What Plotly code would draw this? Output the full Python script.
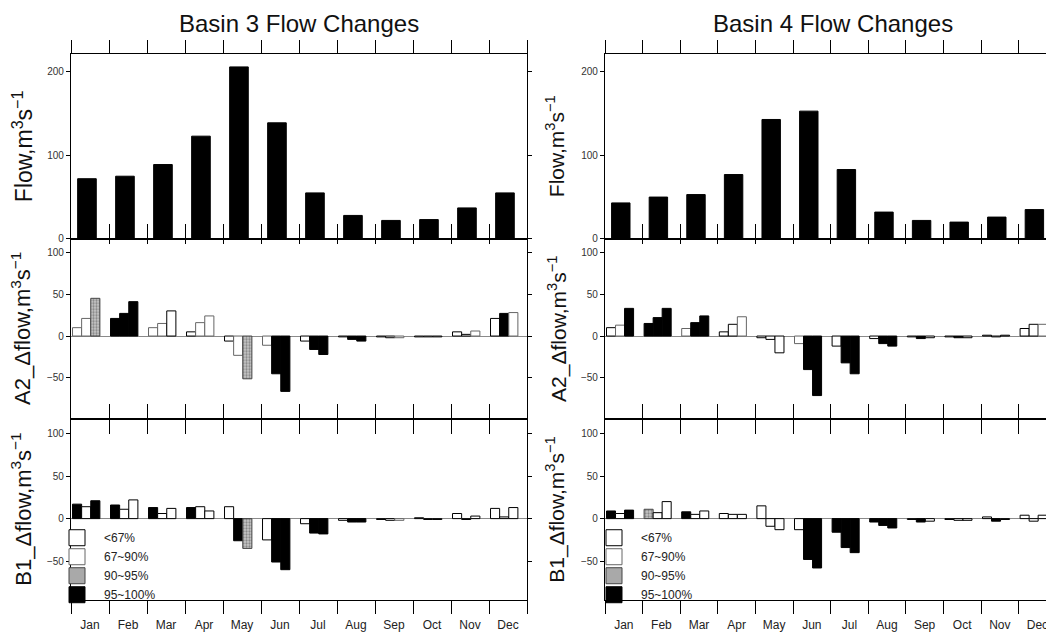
import plotly.graph_objects as go

# ---------------- data ----------------
MONTHS = ['Jan', 'Feb', 'Mar', 'Apr', 'May', 'Jun', 'Jul', 'Aug', 'Sep', 'Oct', 'Nov', 'Dec']
CATEGORY_NAMES = ['<67%', '67~90%', '90~95%', '95~100%']

# mean monthly flow (m3/s)
FLOW_B3 = [72, 75, 89, 123, 206, 139, 55, 28, 22, 23, 37, 55]
FLOW_B4 = [43, 50, 53, 77, 143, 153, 83, 32, 22, 20, 26, 35]

# A2 scenario flow change, Basin 3 (three future periods) and significance class (0..3)
A2_B3_P1 = [10, 21, 10, 5, -6, -11, -6, -1, -1, -1, 5, 21]
A2_B3_P2 = [21, 27, 15, 16, -23, -45, -16, -4, -2, -1, 2, 27]
A2_B3_P3 = [45, 41, 30, 24, -51, -66, -22, -6, -2, -1, 6, 28]
A2_B3_C1 = [1, 3, 1, 0, 0, 1, 0, 0, 0, 0, 0, 0]
A2_B3_C2 = [1, 3, 1, 1, 1, 3, 3, 3, 0, 0, 0, 3]
A2_B3_C3 = [2, 3, 0, 1, 2, 3, 3, 3, 1, 0, 1, 1]

# B1 scenario flow change, Basin 3
B1_B3_P1 = [17, 16, 13, 13, 14, -25, -6, -2, -1, 1, 6, 12]
B1_B3_P2 = [14, 11, 6, 14, -26, -51, -17, -4, -2, -1, -1, 2]
B1_B3_P3 = [21, 22, 12, 9, -35, -60, -18, -4, -2, -1, 3, 13]
B1_B3_C1 = [3, 3, 3, 3, 0, 0, 0, 0, 0, 0, 0, 0]
B1_B3_C2 = [0, 0, 0, 0, 3, 3, 3, 3, 0, 0, 0, 0]
B1_B3_C3 = [3, 0, 0, 0, 2, 3, 3, 3, 1, 0, 0, 0]

# A2 scenario flow change, Basin 4
A2_B4_P1 = [10, 15, 9, 5, -2, -9, -12, -3, -1, -1, 1, 9]
A2_B4_P2 = [13, 22, 16, 14, -4, -40, -32, -9, -3, -2, -1, 14]
A2_B4_P3 = [33, 33, 24, 23, -20, -71, -45, -12, -2, -2, 1, 14]
A2_B4_C1 = [0, 3, 1, 0, 0, 1, 0, 0, 0, 0, 0, 0]
A2_B4_C2 = [1, 3, 3, 0, 0, 3, 3, 3, 3, 3, 0, 0]
A2_B4_C3 = [3, 3, 3, 1, 0, 3, 3, 3, 0, 0, 0, 1]

# B1 scenario flow change, Basin 4
B1_B4_P1 = [9, 11, 8, 6, 15, -13, -16, -4, -1, -1, 2, 4]
B1_B4_P2 = [6, 7, 5, 5, -9, -48, -34, -8, -4, -2, -3, -3]
B1_B4_P3 = [10, 20, 9, 5, -13, -58, -40, -11, -3, -2, -1, 4]
B1_B4_C1 = [3, 2, 3, 0, 0, 0, 3, 3, 0, 0, 0, 0]
B1_B4_C2 = [0, 0, 0, 0, 0, 3, 3, 3, 3, 0, 3, 0]
B1_B4_C3 = [3, 0, 0, 0, 0, 3, 3, 3, 0, 0, 0, 0]

TITLES = ['Basin 3 Flow Changes', 'Basin 4 Flow Changes']
FLOW_TICKS = [0, 100, 200]
DELTA_TICKS = [-50, 0, 50, 100]

# ---------------- styling ----------------
FONT = 'Liberation Sans, Arial, Helvetica, sans-serif'
SCREEN_W, SCREEN_H = 1054, 639
PAGE_MARGIN = 8                     # default body margin of the html page
W, H = SCREEN_W - PAGE_MARGIN, SCREEN_H - PAGE_MARGIN
FILL = ['white', 'white', '#c8c8c8', 'black']
EDGE = ['black', '#666666', '#444444', 'black']
PATTERN = ['', '', '.', '']
LEGEND_FILL = ['white', 'white', '#a9a9a9', 'black']

def px_x(p):   # screen pixel -> paper fraction
    return (p - PAGE_MARGIN) / W

def px_y(p):
    return 1 - (p - PAGE_MARGIN) / H

MONTH_PX = [38.0, 37.6]
col_dom = [[px_x(71), px_x(527)], [px_x(605), 1.0]]
col_rng = [[0, 12], [0, (SCREEN_W - 605) / MONTH_PX[1]]]
row_dom = [[px_y(241), px_y(54)], [px_y(423), px_y(241)], [px_y(606), px_y(423)]]
row_rng = [[0, 222], [-99, 116], [-96, 117]]

flows = [FLOW_B3, FLOW_B4]
deltas = {
    (1, 0): ([A2_B3_P1, A2_B3_P2, A2_B3_P3], [A2_B3_C1, A2_B3_C2, A2_B3_C3]),
    (2, 0): ([B1_B3_P1, B1_B3_P2, B1_B3_P3], [B1_B3_C1, B1_B3_C2, B1_B3_C3]),
    (1, 1): ([A2_B4_P1, A2_B4_P2, A2_B4_P3], [A2_B4_C1, A2_B4_C2, A2_B4_C3]),
    (2, 1): ([B1_B4_P1, B1_B4_P2, B1_B4_P3], [B1_B4_C1, B1_B4_C2, B1_B4_C3]),
}
YLABELS = ['Flow,m<sup>3</sup>s<sup>\u22121</sup>',
           'A2_\u0394flow,m<sup>3</sup>s<sup>\u22121</sup>',
           'B1_\u0394flow,m<sup>3</sup>s<sup>\u22121</sup>']

PERIOD_OFFSETS = [0.16, 0.40, 0.64]
PERIOD_WIDTH = 0.24

fig = go.Figure()
layout = {}

def ax_name(kind, n):
    return kind + ('axis' if n == 1 else 'axis%d' % n)

def ref(kind, n):
    return kind if n == 1 else '%s%d' % (kind, n)

boundaries = list(range(13))
# tick direction / length per row: (bottom, top)
tick_cfg = {0: (('inside', 15), ('outside', 13)),
            1: (('inside', 15), ('inside', 5)),
            2: (('outside', 13), ('inside', 15))}

for r in range(3):
    for c in range(2):
        k = r * 2 + c + 1
        xr, yr = ref('x', k), ref('y', k)
        (bt, bl), (tt, tl) = tick_cfg[r]
        layout[ax_name('x', k)] = dict(
            domain=col_dom[c], anchor=yr, range=col_rng[c],
            tickmode='array', tickvals=boundaries, showticklabels=False,
            ticks=bt, ticklen=bl, tickcolor='black', tickwidth=1,
            showline=True, linecolor='black', linewidth=1.2, mirror=True,
            showgrid=False, zeroline=False, fixedrange=True)
        layout[ax_name('y', k)] = dict(
            domain=row_dom[r], anchor=xr, range=row_rng[r],
            tickmode='array', tickvals=FLOW_TICKS if r == 0 else DELTA_TICKS,
            ticks='outside', ticklen=4, tickcolor='black',
            tickfont=dict(size=10, color='#333333'),
            showline=True, linecolor='black', linewidth=1.2,
            mirror='ticks' if c == 0 else False,
            showgrid=False, zeroline=(r > 0), zerolinecolor='#8a8a8a',
            zerolinewidth=1, fixedrange=True)
        # overlay axis carrying the ticks on the top edge
        ko = 6 + k
        layout[ax_name('x', ko)] = dict(
            overlaying=xr, anchor=yr, side='top', range=col_rng[c],
            tickmode='array', tickvals=boundaries, showticklabels=False,
            ticks=tt, ticklen=tl, tickcolor='black', tickwidth=1,
            showline=False, showgrid=False, zeroline=False, fixedrange=True)
        fig.add_trace(go.Scatter(x=[None], y=[None], xaxis=ref('x', ko), yaxis=yr,
                                 showlegend=False, hoverinfo='skip'))
        if r == 2:
            km = 12 + c + 1
            layout[ax_name('x', km)] = dict(
                overlaying=xr, anchor=yr, side='bottom', range=col_rng[c],
                tickmode='array', tickvals=[i + 0.5 for i in range(12)], ticktext=MONTHS,
                ticks='outside', ticklen=13, tickcolor='rgba(0,0,0,0)',
                tickfont=dict(size=12, color='#222222'), ticklabeloverflow='allow',
                showline=False, showgrid=False, zeroline=False, fixedrange=True)
            fig.add_trace(go.Scatter(x=[None], y=[None], xaxis=ref('x', km), yaxis=yr,
                                     showlegend=False, hoverinfo='skip'))

        if r == 0:
            fig.add_trace(go.Bar(
                x=[i + 0.42 for i in range(12)], y=flows[c], width=0.49,
                marker=dict(color='black', line=dict(color='black', width=1)),
                xaxis=xr, yaxis=yr, showlegend=False, hoverinfo='skip'))
        else:
            vals, cats = deltas[(r, c)]
            for p in range(3):
                fig.add_trace(go.Bar(
                    x=[i + PERIOD_OFFSETS[p] for i in range(12)], y=vals[p],
                    width=PERIOD_WIDTH,
                    marker=dict(
                        color=[FILL[q] for q in cats[p]],
                        line=dict(color=[EDGE[q] for q in cats[p]], width=1),
                        pattern=dict(shape=[PATTERN[q] for q in cats[p]],
                                     fgcolor='#3a3a3a', size=3, solidity=0.45)),
                    xaxis=xr, yaxis=yr, showlegend=False, hoverinfo='skip'))

# legend-only entries
for c, lg in enumerate(['legend', 'legend2']):
    k = 4 + c + 1
    for q, name in enumerate(CATEGORY_NAMES):
        fig.add_trace(go.Scatter(
            x=[None], y=[None], name=name, legend=lg, mode='markers',
            marker=dict(symbol='square', size=16, color=LEGEND_FILL[q],
                        line=dict(color=EDGE[q], width=1)),
            xaxis=ref('x', k), yaxis=ref('y', k), showlegend=True))

leg_common = dict(bgcolor='rgba(0,0,0,0)', font=dict(size=12, color='#222222'),
                  xanchor='left', yanchor='bottom', y=px_y(615), traceorder='normal',
                  itemwidth=44, tracegroupgap=0, borderwidth=0)
layout['legend'] = dict(leg_common, x=px_x(50))
layout['legend2'] = dict(leg_common, x=px_x(587))

annotations = []
for c in range(2):
    cx = (px_x(71) + px_x(527)) / 2 if c == 0 else (px_x(605) + px_x(1061)) / 2
    annotations.append(dict(text=TITLES[c], x=cx, y=px_y(24), xref='paper', yref='paper',
                            xanchor='center', yanchor='middle', showarrow=False,
                            font=dict(size=24, color='#111111')))
label_x = [[23, 21, 21], [555, 558, 556]]
label_size = [[23, 22, 22], [21, 21, 21]]
for c in range(2):
    for r in range(3):
        annotations.append(dict(text=YLABELS[r], x=px_x(label_x[c][r]),
                                y=(row_dom[r][0] + row_dom[r][1]) / 2,
                                xref='paper', yref='paper', xanchor='center', yanchor='middle',
                                textangle=-90, showarrow=False,
                                font=dict(size=label_size[c][r], color='#111111')))

fig.update_layout(
    width=W, height=H, margin=dict(l=0, r=0, t=0, b=0),
    paper_bgcolor='white', plot_bgcolor='white',
    font=dict(family=FONT, color='#111111'),
    barmode='overlay', showlegend=True,
    annotations=annotations, **layout)

fig.write_html('out.html')
